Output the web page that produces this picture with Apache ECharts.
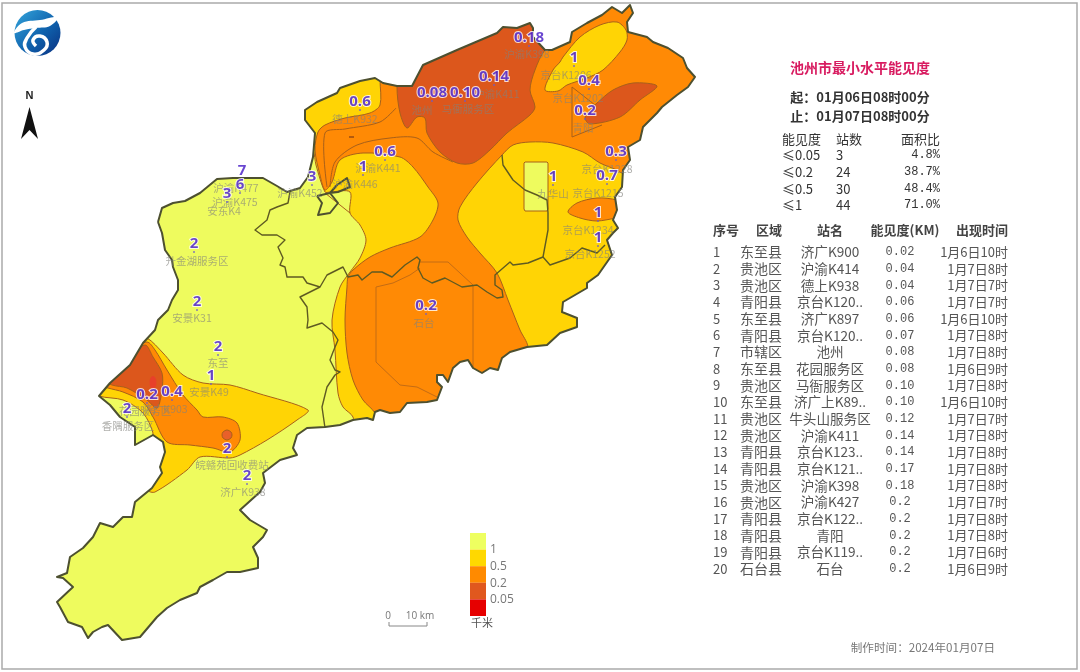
<!DOCTYPE html>
<html>
<head>
<meta charset="utf-8">
<script src="https://cdn.jsdelivr.net/npm/echarts@6/dist/echarts.min.js"></script>
<style>html,body{margin:0;padding:0;background:#fff}#c{width:1080px;height:672px}</style>
</head>
<body>
<div id="c"></div>
<script>
const LIGHT='#eefb5e', AMBER='#ffd405', ORANGE='#ff8a05', DARK='#dc571c';

// city outline, picture pixels
const outline=[[158,222],[162,208],[173,203],[185,201],[200,193],[217,179],[233,178],[263,178],[277,186],[287,192],[300,188],[308,177],[313,157],[315,133],[305,120],[305,110],[317,102],[337,93],[340,88],[360,81],[375,78],[383,83],[397,86],[412,86],[423,65],[457,50],[497,33],[503,27],[517,28],[530,23],[533,28],[533,37],[545,50],[552,50],[570,42],[572,32],[587,23],[602,15],[612,7],[622,13],[630,5],[633,13],[627,22],[628,32],[647,37],[653,42],[668,48],[683,58],[687,68],[695,77],[688,87],[677,95],[662,107],[657,113],[643,127],[640,140],[628,147],[630,160],[623,170],[622,187],[615,197],[617,210],[613,220],[618,228],[613,233],[607,240],[612,255],[598,275],[587,283],[587,288],[563,302],[562,312],[577,318],[577,327],[560,333],[547,345],[537,346],[527,347],[510,352],[502,358],[498,370],[490,368],[482,373],[473,368],[468,360],[460,362],[453,368],[448,382],[443,375],[437,375],[437,382],[442,387],[437,400],[427,402],[407,403],[400,412],[390,413],[380,410],[375,412],[373,420],[367,418],[353,420],[340,425],[325,427],[307,428],[297,435],[293,448],[297,455],[280,460],[263,473],[265,483],[260,492],[240,510],[250,520],[267,530],[263,537],[253,547],[258,558],[258,568],[240,572],[227,572],[213,580],[200,587],[197,593],[180,600],[167,608],[157,617],[140,637],[122,640],[108,625],[102,627],[93,632],[88,638],[82,627],[68,622],[60,607],[57,602],[73,587],[63,578],[57,577],[67,573],[70,557],[83,548],[93,537],[100,523],[113,527],[123,517],[132,517],[135,502],[152,488],[162,473],[160,467],[165,452],[163,442],[153,435],[135,445],[135,427],[120,417],[110,405],[99,396],[110,383],[130,365],[143,343],[155,330],[158,320],[168,310],[172,300],[178,290],[178,280],[173,267],[172,260],[165,250],[162,233]];

// visibility bands; they may run past the outline, the mask trims them
const amberEast=[[330,192],[325,192],[316,165],[313,150],[295,120],[300,90],[420,0],[700,0],[720,100],[640,300],[600,400],[356,440],[353,417],[343,407],[338,393],[335,350],[332,320],[340,287],[350,272],[360,258],[366,240],[360,225],[350,213],[350,192]];
const orangeMain=[[325,190],[320,175],[315,150],[318,132],[325,125],[345,118],[370,113],[380,105],[380,80],[380,40],[700,0],[720,60],[700,120],[640,173],[622,173],[617,170],[600,163],[583,152],[553,143],[530,142],[513,145],[502,155],[477,183],[460,207],[458,220],[467,237],[480,253],[497,273],[508,300],[520,330],[528,347],[530,420],[380,430],[375,413],[363,400],[353,380],[347,353],[345,320],[347,287],[348,277],[353,270],[370,257],[390,248],[420,237],[433,220],[438,203],[428,187],[413,167],[400,157],[363,153],[340,160],[332,182]];
const amberNorth=[[617,22],[626,30],[627,40],[620,52],[603,70],[587,78],[567,85],[558,91],[545,90],[553,70],[560,62],[563,57],[580,37],[600,25]];
const orangeEast=[[568,212],[577,203],[597,198],[617,200],[625,205],[625,218],[617,218],[597,221],[580,218]];
const darkNorth=[[397,87],[400,113],[407,128],[417,117],[425,118],[427,133],[440,152],[457,163],[473,163],[490,150],[507,133],[530,115],[535,107],[530,90],[535,70],[545,50],[560,40],[540,10],[400,20]];
const darkEast=[[657,86],[633,83],[613,90],[597,103],[590,110],[585,118],[590,124],[620,117],[640,100]];
const amberWest=[[147,338],[163,353],[183,375],[203,383],[230,385],[257,393],[308,410],[297,420],[267,440],[240,455],[230,458],[200,457],[187,470],[155,492],[148,490],[150,440],[153,433],[143,413],[123,400],[99,396],[90,388],[130,335]];
const orangeWest=[[147,342],[155,350],[167,370],[183,395],[197,410],[203,417],[223,417],[237,423],[240,440],[230,452],[213,448],[190,445],[167,442],[153,417],[143,402],[123,392],[108,388],[100,385],[130,350]];
const darkWest=[[145,345],[153,357],[162,373],[162,390],[157,408],[147,400],[127,388],[112,385],[105,380],[125,360]];
const blobWest=[[153,376],[156,379],[156,386],[153,389],[150,386],[150,379]];
const blobSouth=[[227,430],[231,432],[232,435],[231,438],[227,440],[223,438],[222,435],[223,432]];
const jiuhua=[[525,162],[547,162],[548,163],[548,209],[547,211],[525,211],[524,209],[524,163]];

// thin contour lines over a single colour
const contourA=[[327,187],[325,133],[345,129],[380,122],[396,108]];
const contourB=[[330,187],[335,162],[357,145],[390,138],[417,138],[433,152],[453,162]];
const contourC=[[325,193],[350,213]];
const contourD=[[572,87],[595,105]];
const contourE=[[572,87],[572,137],[602,125]];
const contourF=[[376,287],[393,283],[410,275],[420,268]];
const contourG=[[376,287],[376,362],[400,385],[417,387],[437,397]];
const contourH=[[420,262],[448,262],[473,285],[473,368]];
const contourI=[[349,137],[354,137]];

// county boundaries
const countyA=[[290,192],[288,203],[277,207],[270,210],[267,220],[255,230],[262,235],[277,235],[285,240],[278,247],[283,258],[280,265],[285,267],[287,277],[303,277],[307,283],[320,287],[327,275],[343,267],[348,277],[358,275],[362,280],[372,272],[382,272],[392,277],[405,265],[417,257],[420,260],[418,268],[423,278],[432,283],[445,278],[462,287],[477,285],[487,292],[497,298],[503,297],[502,290],[495,285],[495,275],[510,262],[513,265],[528,263],[543,257],[550,265],[570,258],[582,248],[597,253],[605,245]];
const countyB=[[320,287],[300,297],[307,307],[308,320],[307,328],[322,323],[333,332],[338,340],[333,352],[330,360],[335,370],[340,372],[335,375],[327,387],[322,407],[325,428]];
const countyC=[[502,155],[503,165],[513,180],[525,190],[537,195],[547,200],[548,213],[548,230],[543,257]];
const enclave=[[317,196],[322,203],[318,215],[330,213],[338,203],[330,193],[337,185],[347,178],[350,187],[338,192],[330,193],[317,196]];

// stations
const stationPos=[[529,46],[574,66],[589,89],[585,119],[494,85],[432,101],[465,101],[360,110],[385,160],[363,175],[312,185],[242,179],[240,193],[227,202],[194,252],[197,310],[218,355],[211,384],[172,400],[147,403],[127,417],[227,457],[247,484],[426,314],[616,160],[607,184],[553,185],[598,221],[598,246]];
const stationVal=['0.18','1','0.4','0.2','0.14','0.08','0.10','0.6','0.6','1','3','7','6','3','2','2','2','1','0.4','0.2','2','2','2','0.2','0.3','0.7','1','1','1'];
const stationName=['沪渝K398','京台K1206','京台K1202','青阳','沪渝K411','池州','马衙服务区','德上K932','沪渝K441','沪渝K446','沪渝K452','沪渝K477','沪渝K475','安东K4','升金湖服务区','安景K31','东至','安景K49','济广K903','花园服务区','香隅服务区','皖赣苑回收费站','济广K938','石台','京台K1228','京台K1215','九华山','京台K1234','京台K1252'];
const namePos=[[527,54],[566,75],[578,98],[583,128],[497,94],[422,110],[468,109],[355,119],[378,168],[355,184],[300,193],[236,188],[235,202],[224,211],[197,261],[192,318],[218,363],[209,392],[165,409],[145,411],[128,426],[232,465],[243,492],[424,323],[607,169],[598,193],[553,194],[588,230],[590,254]];

// right panel
const statHead=['能见度','站数','面积比'];
const statLevel=['≤0.05','≤0.2','≤0.5','≤1'];
const statCount=['3','24','30','44'];
const statShare=['4.8%','38.7%','48.4%','71.0%'];
const tableHead=['序号','区域','站名','能见度(KM)','出现时间'];
const rowArea=['东至县','贵池区','贵池区','青阳县','东至县','青阳县','市辖区','东至县','贵池区','东至县','贵池区','贵池区','青阳县','青阳县','贵池区','贵池区','青阳县','青阳县','青阳县','石台县'];
const rowStation=['济广K900','沪渝K414','德上K938','京台K120..','济广K897','京台K120..','池州','花园服务区','马衙服务区','济广上K89..','牛头山服务区','沪渝K411','京台K123..','京台K121..','沪渝K398','沪渝K427','京台K122..','青阳','京台K119..','石台'];
const rowVis=['0.02','0.04','0.04','0.06','0.06','0.07','0.08','0.08','0.10','0.10','0.12','0.14','0.14','0.17','0.18','0.2','0.2','0.2','0.2','0.2'];
const rowTime=['1月6日10时','1月7日8时','1月7日7时','1月7日7时','1月6日10时','1月7日8时','1月7日8时','1月6日9时','1月7日8时','1月6日10时','1月7日7时','1月7日8时','1月7日8时','1月7日8时','1月7日8时','1月7日7时','1月7日8时','1月7日8时','1月7日6时','1月6日9时'];

// legend
const legendColors=['#eeff60','#ffd800','#ff8a00','#e0581e','#e60000'];
const legendLabels=['1','0.5','0.2','0.05'];

const CJK='"Noto Sans CJK SC","Noto Sans",sans-serif';
const MONO='"Liberation Mono",'+CJK;

// white sheet with a keyhole: everything outside the outline
// the ring has to wind against the frame or the hole gets filled too
const frameRing=[[0,0],[1080,0],[1080,672],[0,672],[0,0]];
const outlineBack=outline.slice().reverse();
const mask=frameRing.concat(outlineBack,[outlineBack[0],[0,0]]);

function area(pts,fill,stroke,smooth){ return {pts,fill,stroke:stroke||null,smooth:smooth||0}; }
function line(pts,stroke,w,smooth){ return {pts,stroke,w,open:true,smooth:smooth||0}; }
const THIN='#a8601a', SOFT='#c46c14', COUNTY='#5e5a22', BORDER='#4d5030', S=0.3;
const layers=[
  area(outline,LIGHT),
  area(amberEast,AMBER,THIN,S),
  area(orangeMain,ORANGE,THIN,S),
  area(amberNorth,AMBER,THIN,S),
  area(orangeEast,ORANGE,THIN,S),
  area(darkNorth,DARK,THIN,S),
  area(darkEast,DARK,THIN,S),
  area(amberWest,AMBER,THIN,S),
  area(orangeWest,ORANGE,THIN,S),
  area(darkWest,DARK,THIN,S),
  area(blobWest,'#e8402a',null,S),
  area(blobSouth,'#e8602a',THIN,S),
  area(jiuhua,LIGHT,THIN),
  line(contourA,THIN,1,S),line(contourB,THIN,1,S),line(contourC,THIN,1),line(contourD,THIN,1),line(contourE,THIN,1),
  line(contourF,SOFT,1),line(contourG,SOFT,1),line(contourH,SOFT,1),line(contourI,'#9a4a10',1.5),
  line(countyA,COUNTY,1.4),line(countyB,COUNTY,1.4),line(countyC,COUNTY,1.4),
  area(mask,'#fff'),
  line(outline.concat([outline[0]]),BORDER,2),
  line(enclave,BORDER,2)
];

function drawLayer(params,api){
  const l=layers[params.dataIndex];
  const points=l.pts.map(p=>api.coord(p));
  if(l.open) return {type:'polyline',shape:{points,smooth:l.smooth},style:{fill:null,stroke:l.stroke,lineWidth:l.w,lineJoin:'round'},silent:true};
  return {type:'polygon',shape:{points,smooth:l.smooth},style:{fill:l.fill,stroke:l.stroke,lineWidth:l.stroke?1:0,lineJoin:'round'},silent:true};
}

function txt(x,y,text,o){
  o=o||{};
  return {type:'text',x,y,silent:true,z:10,style:{text,fill:o.fill||'#444',font:o.font||('13px '+CJK),align:o.align||'left',verticalAlign:'middle'}};
}

function panel(){
  const g=[];
  g.push(txt(860,68,'池州市最小水平能见度',{align:'center',fill:'#d81b60',font:'bold 14px '+CJK}));
  g.push(txt(860,97,'起：01月06日08时00分',{align:'center',fill:'#333',font:'bold 13px '+CJK}));
  g.push(txt(860,116,'止：01月07日08时00分',{align:'center',fill:'#333',font:'bold 13px '+CJK}));
  g.push(txt(782,139,statHead[0],{fill:'#333'}),txt(836,139,statHead[1],{fill:'#333'}),txt(940,139,statHead[2],{fill:'#333',align:'right'}));
  const statY=[155,172,189,205];
  statLevel.forEach((s,i)=>{
    g.push(txt(782,statY[i],s,{fill:'#333'}),txt(836,statY[i],statCount[i],{fill:'#333'}),txt(940,statY[i],statShare[i],{fill:'#333',align:'right',font:'12px '+MONO}));
  });
  const headFont='bold 13px '+CJK;
  g.push(txt(713,230,tableHead[0],{font:headFont}),txt(769,230,tableHead[1],{font:headFont,align:'center'}),txt(830,230,tableHead[2],{font:headFont,align:'center'}),txt(905,230,tableHead[3],{font:headFont,align:'center'}),txt(1008,230,tableHead[4],{font:headFont,align:'right'}));
  rowArea.forEach((a,i)=>{
    const y=252+i*16.68;
    g.push(txt(713,y,String(i+1),{fill:'#555'}));
    g.push(txt(761,y,a,{align:'center',fill:'#555',font:'14px '+CJK}));
    g.push(txt(830,y,rowStation[i],{align:'center',fill:'#555',font:'13.6px '+CJK}));
    g.push(txt(900,y,rowVis[i],{align:'center',fill:'#555',font:'12px '+MONO}));
    g.push(txt(1008,y,rowTime[i],{align:'right',fill:'#555'}));
  });
  g.push(txt(995,648,'制作时间：2024年01月07日',{align:'right',fill:'#777',font:'11.6px '+CJK}));
  return g;
}

function furniture(){
  const g=[];
  // frame
  g.push({type:'rect',silent:true,z:9,shape:{x:2,y:3,width:1075,height:666},style:{fill:null,stroke:'#aaa',lineWidth:1.5}});
  // logo
  g.push({type:'circle',silent:true,z:9,shape:{cx:37.5,cy:33,r:23},style:{fill:new echarts.graphic.LinearGradient(0,0,1,1,[{offset:0,color:'#35a6dc'},{offset:.55,color:'#0f62ad'},{offset:1,color:'#0a2f80'}])}});
  g.push({type:'polygon',silent:true,z:9,shape:{smooth:.4,points:[[14,33],[22,23],[40,20],[58,17],[50,26],[36,28],[24,30]]},style:{fill:'#fff'}});
  g.push({type:'polyline',silent:true,z:9,shape:{smooth:.5,points:[[36,27],[27,38],[25,47],[33,54],[44,50],[47,42],[40,36],[33,40],[36,46]]},style:{fill:null,stroke:'#fff',lineWidth:3.5}});
  // north arrow
  g.push(txt(29.5,96,'N',{align:'center',fill:'#222',font:'bold 11px "Liberation Sans",sans-serif'}));
  g.push({type:'polygon',silent:true,z:9,shape:{points:[[29.5,107],[21,139],[29.5,130],[38,139]]},style:{fill:'#111'}});
  // scale bar
  g.push(txt(388,616,'0',{align:'center',fill:'#777',font:'10px "Open Sans",sans-serif'}),txt(420,616,'10 km',{align:'center',fill:'#777',font:'10px "Open Sans",sans-serif'}));
  g.push({type:'polyline',silent:true,z:9,shape:{points:[[389,622],[389,626],[427,626],[427,622]]},style:{fill:null,stroke:'#888',lineWidth:1}});
  // legend
  legendColors.forEach((c,i)=>{
    g.push({type:'rect',silent:true,z:9,shape:{x:470,y:533+i*16.6,width:16,height:16.6},style:{fill:c}});
  });
  legendLabels.forEach((s,i)=>{
    g.push(txt(490,550+i*16.6,s,{fill:'#777',font:'12px "Open Sans",sans-serif'}));
  });
  g.push(txt(482,623,'千米',{align:'center',fill:'#555',font:'11px '+CJK}));
  return g;
}

const chart=echarts.init(document.getElementById('c'),null,{renderer:'canvas'});
chart.setOption({
  animation:false,
  backgroundColor:'#fff',
  grid:{left:0,right:0,top:0,bottom:0},
  xAxis:{type:'value',min:0,max:1080,show:false},
  yAxis:{type:'value',min:0,max:672,inverse:true,show:false},
  series:[
    {type:'custom',coordinateSystem:'cartesian2d',clip:false,silent:true,z:1,renderItem:drawLayer,data:layers.map((l,i)=>[i])},
    {type:'scatter',z:3,silent:true,symbolSize:1,itemStyle:{color:'transparent'},
      data:namePos.map((p,i)=>({value:p,label:{formatter:stationName[i]}})),
      label:{show:true,position:'inside',color:'rgba(130,130,125,.8)',fontSize:10.5,fontFamily:CJK}},
    {type:'scatter',z:4,silent:true,symbolSize:2,itemStyle:{color:'#6a5acd'},
      data:stationPos.map((p,i)=>({value:p,label:{formatter:stationVal[i]}})),
      label:{show:true,position:'top',distance:0,color:'#4216c4',fontSize:15,fontWeight:'bold',fontFamily:'"Open Sans",sans-serif',textBorderColor:'#fff',textBorderWidth:2}}
  ],
  graphic:{elements:furniture().concat(panel())}
});
</script>
</body>
</html>
